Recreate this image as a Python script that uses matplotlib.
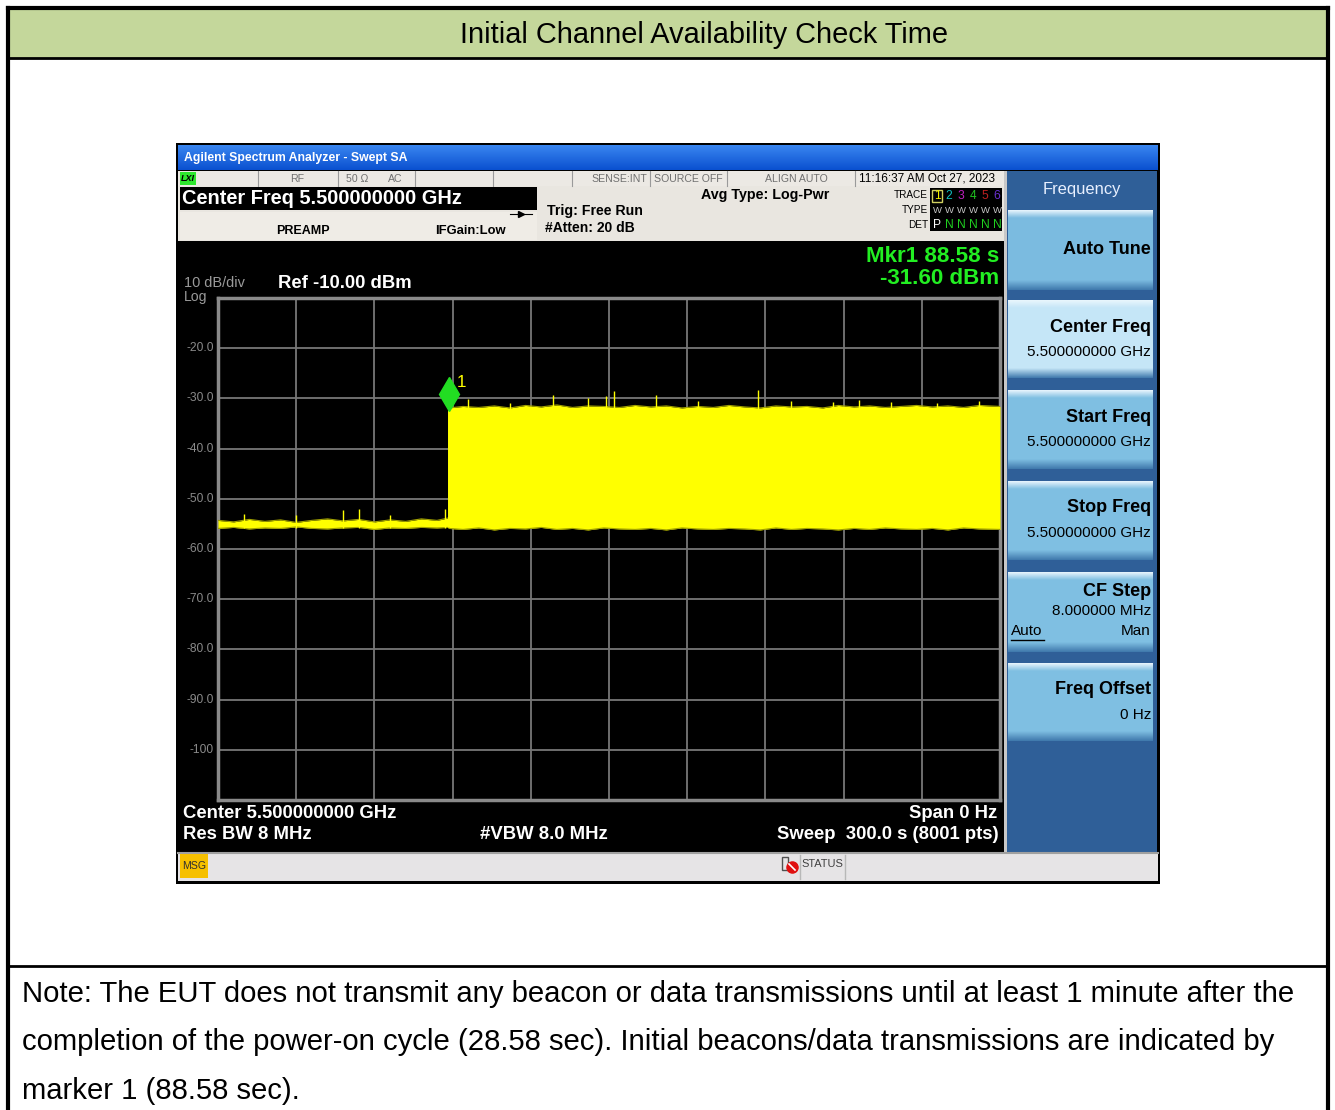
import numpy as np
import matplotlib
matplotlib.use("Agg")
import matplotlib.pyplot as plt
from matplotlib.patches import Rectangle
from matplotlib.transforms import ScaledTranslation

# ---------------- data ----------------
title = "Initial Channel Availability Check Time"
note_lines = [
    "Note: The EUT does not transmit any beacon or data transmissions until at least 1 minute after the",
    "completion of the power-on cycle (28.58 sec). Initial beacons/data transmissions are indicated by",
    "marker 1 (88.58 sec).",
]
sweep_time = 300.0            # s
ref_level = -10.0             # dBm
db_per_div = 10.0
n_div = 10
ytick_vals = [-20, -30, -40, -50, -60, -70, -80, -90, -100]
ytick_labels = ["-20.0", "-30.0", "-40.0", "-50.0", "-60.0", "-70.0", "-80.0", "-90.0", "-100"]

# noise floor before the EUT starts transmitting
pre_t = [0, 6, 12, 18, 24, 30, 36, 42, 48, 54, 60, 66, 72, 78, 84, 88.5]
pre_top = [-54.3, -54.6, -54.1, -54.5, -54.2, -54.7, -54.3, -54.0, -54.4, -54.1,
           -54.6, -54.2, -54.5, -54.0, -54.3, -53.8]
pre_bot = [-55.9, -55.7, -56.0, -55.8, -55.9, -55.6, -55.9, -56.0, -55.8, -55.7,
           -56.1, -55.8, -55.9, -55.7, -55.8, -55.7]
pre_spike_t = [10, 30, 48, 54, 66, 87]
pre_spike_top = [-53.0, -53.2, -52.2, -52.0, -53.3, -52.0]

# transmissions after marker 1
post_t = [88.6, 94, 100, 106, 112, 118, 124, 130, 136, 142, 148, 154, 160, 166, 172,
          178, 184, 190, 196, 202, 208, 214, 220, 226, 232, 238, 244, 250, 256, 262,
          268, 274, 280, 286, 292, 300]
post_top = [-31.9, -31.6, -31.8, -31.5, -31.9, -31.4, -31.7, -31.3, -31.8, -31.5,
            -31.6, -31.8, -31.4, -31.7, -31.5, -31.9, -31.6, -31.8, -31.4, -31.7,
            -31.9, -31.5, -31.7, -31.6, -31.9, -31.4, -31.7, -31.5, -31.8, -31.6,
            -31.4, -31.7, -31.5, -31.8, -31.4, -31.6]
post_bot = [-55.9, -56.1, -55.8, -56.2, -55.9, -56.0, -55.7, -56.1, -55.9, -56.2,
            -55.8, -56.0, -56.1, -55.9, -56.2, -55.8, -56.0, -56.1, -55.9, -56.0,
            -56.2, -55.8, -56.1, -55.9, -56.0, -56.2, -55.9, -56.1, -55.8, -56.0,
            -56.1, -55.9, -56.2, -55.8, -56.0, -56.1]
post_spike_t = [96, 112, 128.6, 142, 149, 152, 168, 184, 207, 220, 236, 246, 258, 276, 292]
post_spike_top = [-30.1, -30.9, -29.3, -29.9, -29.6, -28.5, -29.4, -30.5, -28.4,
                  -30.6, -30.8, -30.4, -30.7, -30.9, -30.6]

mkr_t = 88.58
mkr_db = -31.60

# ---------------- figure ----------------
W, H = 1335, 1110
fig = plt.figure(figsize=(W / 100, H / 100), dpi=100)
fig.patch.set_facecolor("white")
cv = fig.add_axes([0, 0, 1, 1])
cv.set_xlim(0, W)
cv.set_ylim(H, 0)
cv.axis("off")

SANS = ["Liberation Sans", "DejaVu Sans"]


def px(p):
    return p * 0.72


def txt(x, y, s, size, color="black", ha="left", va="center", weight="normal", z=8, **kw):
    cv.text(x, y, s, fontsize=px(size), color=color, ha=ha, va=va,
            fontweight=weight, family=SANS, zorder=z, **kw)


def rect(x0, y0, x1, y1, fc, ec="none", lw=0, z=1):
    cv.add_patch(Rectangle((x0, y0), x1 - x0, y1 - y0, facecolor=fc,
                           edgecolor=ec, linewidth=lw, zorder=z))


def hgrad(x0, y0, x1, y1, c_top, c_bot, z=1):
    c1 = np.array(matplotlib.colors.to_rgb(c_top))
    c2 = np.array(matplotlib.colors.to_rgb(c_bot))
    n = 64
    f = np.linspace(0, 1, n)[:, None]
    img = (c1 * (1 - f) + c2 * f)[:, None, :]
    cv.imshow(img, extent=(x0, x1, y1, y0), aspect="auto", zorder=z,
              interpolation="bilinear")


# ----- outer report table -----
rect(8, 8, 1328, 58, "#c4d79b", z=1)
cv.plot([8, 1328], [8, 8], color="black", lw=3, zorder=5)
cv.plot([8, 1328], [58, 58], color="black", lw=2, zorder=5)
cv.plot([8, 1328], [966, 966], color="black", lw=2, zorder=5)
cv.plot([8, 8], [8, 1110], color="black", lw=3, zorder=5)
cv.plot([1328, 1328], [8, 1110], color="black", lw=3, zorder=5)
txt(704, 35, title, 29, ha="center")
for i, line in enumerate(note_lines):
    txt(22, 994 + i * 48.5, line, 29.2)

# ----- instrument screenshot -----
rect(176, 143, 1160, 884, "black", z=2)
hgrad(178, 145, 1158, 170, "#3a86f0", "#0a50d0", z=3)
txt(184, 158, "Agilent Spectrum Analyzer - Swept SA", 12.2, color="white", weight="bold")

# status row
rect(178, 171, 1004, 186, "#ece9e4", z=3)
rect(1004, 171, 1008, 241, "#ece9e4", z=3)
rect(180, 172, 196, 185, "#2ee82e", z=4)
txt(181, 178.5, "LXI", 9, color="black", weight="bold", style="italic")
for xs in [258, 338, 415, 493, 572, 650, 727, 855]:
    cv.plot([xs, xs], [171, 186], color="#9a9a9a", lw=0.8, zorder=4)
txt(297, 178.5, "RF", 10.5, color="#707070", ha="center")
txt(357, 178.5, "50 Ω", 10.5, color="#707070", ha="center")
txt(395, 178.5, "AC", 10.5, color="#707070", ha="center")
txt(619, 178.5, "SENSE:INT", 10.5, color="#707070", ha="center")
txt(688, 178.5, "SOURCE OFF", 10.5, color="#707070", ha="center")
txt(796, 178.5, "ALIGN AUTO", 10.5, color="#707070", ha="center")
txt(927, 178.5, "11:16:37 AM Oct 27, 2023", 11.8, color="black", ha="center")

# settings area
rect(178, 186, 1004, 241, "#e9e6e0", z=3)
rect(180, 187, 537, 210, "black", z=4)
txt(182, 198.5, "Center Freq 5.500000000 GHz", 20, color="white", weight="bold")
rect(180, 212, 537, 240, "#efece6", z=4)
txt(303, 230.5, "PREAMP", 12.5, color="black", weight="bold", ha="center")
txt(470, 231, "IFGain:Low", 13, color="black", weight="bold", ha="center")
cv.plot([510, 532], [214, 214], color="black", lw=0.8, zorder=6)
cv.plot([521], [214], marker=">", ms=4, color="black", zorder=6)
txt(547, 211.5, "Trig: Free Run", 14.1, color="black", weight="bold")
txt(545, 228.5, "#Atten: 20 dB", 13.9, color="black", weight="bold")
txt(765, 195, "Avg Type: Log-Pwr", 14.2, color="black", weight="bold", ha="center")
txt(928, 195, "TRACE", 10, color="black", ha="right")
txt(928, 210, "TYPE", 10, color="black", ha="right")
txt(928, 224.5, "DET", 10, color="black", ha="right")
rect(930, 188, 1002, 231, "black", z=4)
rect(932, 190, 942, 202, "none", ec="#d0d060", lw=1, z=5)
digit_cols = ["#f0f000", "#10c0c0", "#c020c0", "#20c020", "#c02020", "#6a30d0"]
for k in range(6):
    txt(937 + k * 12, 196, str(k + 1), 12, color=digit_cols[k], ha="center")
    txt(937 + k * 12, 210.5, "W", 9.5, color="#c8c8c8", ha="center")
    txt(937 + k * 12, 224.5, "P" if k == 0 else "N", 12,
        color="white" if k == 0 else "#20d020", ha="center")

# display area
rect(178, 241, 1004, 852, "black", z=3)
txt(184, 283, "10 dB/div", 14.5, color="#9a9a9a")
txt(184, 297.5, "Log", 14, color="#9a9a9a")
txt(278, 283.5, "Ref -10.00 dBm", 18.5, color="white", weight="bold")
txt(999, 256.5, "Mkr1 88.58 s", 22.4, color="#22ee22", weight="bold", ha="right")
txt(999, 278.5, "-31.60 dBm", 22.4, color="#22ee22", weight="bold", ha="right")
txt(183, 813.5, "Center 5.500000000 GHz", 18.5, color="white", weight="bold")
txt(183, 834.5, "Res BW 8 MHz", 18.5, color="white", weight="bold")
txt(480, 834.5, "#VBW 8.0 MHz", 18.5, color="white", weight="bold")
txt(997, 813.5, "Span 0 Hz", 18.5, color="white", weight="bold", ha="right")
txt(999, 834.5, "Sweep  300.0 s (8001 pts)", 18.5, color="white", weight="bold", ha="right")

# right softkey panel
rect(1004, 171, 1008, 852, "#c8c8c8", z=3)
rect(1007, 171, 1157, 852, "#2f5f98", z=3)
txt(1082, 189.5, "Frequency", 16.5, color="#e8f0ff", ha="center")
buttons = [
    (210, 290, "Auto Tune", [], "#7bbbe0"),
    (300, 378, "Center Freq", ["5.500000000 GHz"], "#c5e6f7"),
    (390, 469, "Start Freq", ["5.500000000 GHz"], "#7fbfe2"),
    (481, 560, "Stop Freq", ["5.500000000 GHz"], "#7fbfe2"),
    (572, 652, "CF Step", ["8.000000 MHz"], "#7fbfe2"),
    (663, 741, "Freq Offset", ["0 Hz"], "#7fbfe2"),
]
for (by0, by1, lab, subs, col) in buttons:
    hgrad(1008, by0, 1153, by0 + 8, "#eaf6fd", col, z=4)
    rect(1008, by0 + 8, 1153, by1 - 10, col, z=4)
    hgrad(1008, by1 - 10, 1153, by1, col, "#3f78ac", z=4)
    if subs:
        if lab == "CF Step":
            ty, dy = by0 + 20, 19
        else:
            ty, dy = by0 + 27, 25
        txt(1151, ty, lab, 18, color="black", weight="bold", ha="right")
        txt(1151, ty + dy, subs[0], 15.3, color="black", ha="right")
    else:
        txt(1151, (by0 + by1) / 2 - 1, lab, 18, color="black", weight="bold", ha="right")
txt(1011, 631, "Auto", 15.3, color="black")
cv.plot([1011, 1044], [639.5, 639.5], color="black", lw=1, zorder=8)
txt(1151, 631, "Man", 15.3, color="black", ha="right")

# message bar
rect(178, 852, 1158, 881, "#e6e4e6", z=3)
cv.plot([178, 1158], [853, 853], color="#a0a0a0", lw=1.5, zorder=4)
rect(180, 854, 208, 878, "#f6c000", z=4)
txt(194, 866, "MSG", 10.5, color="#303030", ha="center")
for xs in [800, 845]:
    cv.plot([xs, xs], [855, 879], color="#b8b8b8", lw=1, zorder=4)
rect(782, 857, 788, 870, "none", ec="#505050", lw=1, z=5)
cv.plot([792], [867], marker="o", ms=8, color="#e01010", zorder=6)
cv.plot([789, 795], [864, 870], color="white", lw=1.2, zorder=7)
txt(822, 864, "STATUS", 11, color="#404040", ha="center")

# ---------------- trace axes ----------------
x0, y0, x1, y1 = 218, 298, 1000, 800
ax = fig.add_axes([x0 / W, 1 - y1 / H, (x1 - x0) / W, (y1 - y0) / H])
ax.set_facecolor("black")
ax.set_zorder(10)
ax.set_xlim(0, sweep_time)
ax.set_ylim(ref_level - n_div * db_per_div, ref_level)
ax.set_xticks(np.arange(0, sweep_time + 1, sweep_time / n_div))
ax.set_yticks(np.arange(ref_level - n_div * db_per_div, ref_level + 1, db_per_div))
ax.grid(True, color="#777777", lw=1.3)
ax.set_axisbelow(True)
ax.tick_params(length=0, labelbottom=False, labelleft=False)
for sp in ax.spines.values():
    sp.set_color("#8a8a8a")
    sp.set_linewidth(2.5)

YEL = "#ffff00"
EDGE = "#a0a000"
ax.fill_between(pre_t, pre_bot, pre_top, color=YEL, lw=0, zorder=3)
ax.plot(pre_t, pre_top, color=EDGE, lw=0.8, zorder=3)
ax.plot(pre_t, pre_bot, color=EDGE, lw=0.8, zorder=3)
ax.vlines(pre_spike_t, pre_bot[0], pre_spike_top, color=YEL, lw=1, zorder=3)
ax.fill_between(post_t, post_bot, post_top, color=YEL, lw=0, zorder=3)
ax.plot(post_t, post_top, color=EDGE, lw=0.8, zorder=3)
ax.plot(post_t, post_bot, color=EDGE, lw=0.8, zorder=3)
ax.vlines(post_spike_t, -40, post_spike_top, color=YEL, lw=1, zorder=3)
ax.vlines([pre_t[-1], post_t[0]], pre_bot[-1], post_top[0], color=YEL, lw=2, zorder=3)

# marker 1 (diamond sits above the marker point)
off = ScaledTranslation(0, 12 / 100, fig.dpi_scale_trans)
ax.plot([mkr_t], [mkr_db], marker="d", ms=17, color="#22dd22", mec="#22dd22",
        transform=ax.transData + off, zorder=6, clip_on=False)
ax.text(mkr_t, mkr_db, "1", color=YEL, fontsize=px(17), family=SANS,
        transform=ax.transData + ScaledTranslation(8 / 100, 24 / 100, fig.dpi_scale_trans),
        ha="left", va="center", zorder=6)

# y labels (gray, left of graticule)
for v, s in zip(ytick_vals, ytick_labels):
    yy = y0 + (ref_level - v) / db_per_div * ((y1 - y0) / n_div)
    txt(214, yy, s, 12, color="#8a8a8a", ha="right")

fig.savefig("out.png", dpi=100, facecolor="white")
